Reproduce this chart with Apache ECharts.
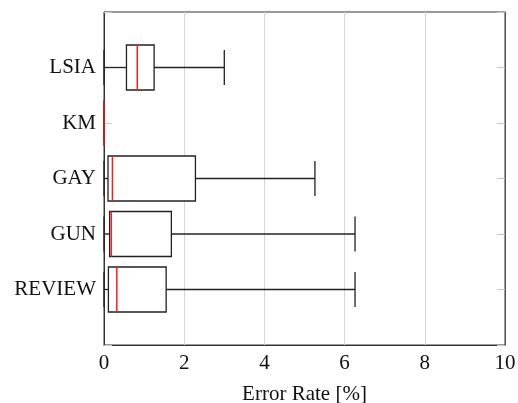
<!DOCTYPE html>
<html>
<head>
<meta charset="utf-8">
<script src="https://cdn.jsdelivr.net/npm/echarts@6/dist/echarts.min.js"></script>
<style>html,body{margin:0;padding:0;background:#fff;}#c{width:518px;height:403px;}</style>
</head>
<body>
<div id="c"></div>
<script>
var categories = ['REVIEW', 'GUN', 'GAY', 'KM', 'LSIA'];
var whiskerLow = [0, 0, 0, 0, 0];
var q1 = [0.11, 0.14, 0.10, 0, 0.56];
var median = [0.32, 0.18, 0.21, 0, 0.83];
var q3 = [1.55, 1.68, 2.28, 0, 1.25];
var whiskerHigh = [6.26, 6.26, 5.26, 0, 3.00];
var xTicks = [0, 2, 4, 6, 8, 10];

var yCats = [''].concat(categories).concat(['']);
var data = categories.map(function (c, i) {
  return [c, whiskerLow[i], q1[i], median[i], q3[i], whiskerHigh[i]];
});

var font = 'Liberation Serif';
var chart = echarts.init(document.getElementById('c'), null, {renderer: 'canvas'});
chart.setOption({
  animation: false,
  backgroundColor: '#fff',
  grid: {left: 104, right: 13, top: 12, bottom: 58, containLabel: false, outerBoundsMode: 'none', show: true, borderColor: '#333', borderWidth: 1, backgroundColor: 'transparent'},
  xAxis: {
    type: 'value', min: xTicks[0], max: xTicks[xTicks.length - 1], interval: 2,
    name: 'Error Rate [%]', nameLocation: 'middle', nameGap: 39,
    nameTextStyle: {fontFamily: font, fontSize: 21, color: '#111'},
    axisLine: {show: true, lineStyle: {color: '#333', width: 1}},
    axisTick: {show: false},
    axisLabel: {fontFamily: font, fontSize: 21, color: '#111', margin: 8},
    splitLine: {show: true, lineStyle: {color: '#d6d6d6', width: 1}}
  },
  yAxis: [{
    type: 'category', data: yCats, boundaryGap: false,
    axisLine: {show: true, lineStyle: {color: '#333', width: 1}},
    axisTick: {show: true, inside: true, length: 8, lineStyle: {color: '#c8c8c8'}},
    axisLabel: {fontFamily: font, fontSize: 21, color: '#111', margin: 8},
    splitLine: {show: false}
  }, {
    type: 'category', data: yCats, boundaryGap: false, position: 'right',
    axisLine: {show: true, lineStyle: {color: '#555', width: 1}},
    axisTick: {show: true, inside: true, length: 8, lineStyle: {color: '#c8c8c8'}},
    axisLabel: {show: false},
    splitLine: {show: false}
  }],
  series: [{
    type: 'custom',
    yAxisIndex: 0,
    encode: {y: 0, x: [1, 2, 3, 4, 5]},
    data: data,
    z: 3,
    renderItem: function (params, api) {
      var cat = api.value(0);
      var pMin = api.coord([api.value(1), cat]);
      var pQ1 = api.coord([api.value(2), cat]);
      var pMed = api.coord([api.value(3), cat]);
      var pQ3 = api.coord([api.value(4), cat]);
      var pMax = api.coord([api.value(5), cat]);
      var band = api.size([0, 1])[1];
      var bh = band * 0.81 / 2;
      var ch = band * 0.63 / 2;
      var y = pMed[1];
      var ls = {stroke: '#222', lineWidth: 1.3, fill: null};
      return {
        type: 'group',
        children: [
          {type: 'line', shape: {x1: pMin[0], y1: y, x2: pQ1[0], y2: y}, style: ls},
          {type: 'line', shape: {x1: pQ3[0], y1: y, x2: pMax[0], y2: y}, style: ls},
          {type: 'line', shape: {x1: pMin[0], y1: y - ch, x2: pMin[0], y2: y + ch}, style: ls},
          {type: 'line', shape: {x1: pMax[0], y1: y - ch, x2: pMax[0], y2: y + ch}, style: ls},
          {type: 'rect', shape: {x: pQ1[0], y: y - bh, width: pQ3[0] - pQ1[0], height: 2 * bh}, style: {stroke: '#222', lineWidth: 1.3, fill: '#fff'}},
          {type: 'line', shape: {x1: pMed[0], y1: y - bh, x2: pMed[0], y2: y + bh}, style: {stroke: '#ff1a1a', lineWidth: 1.5}}
        ]
      };
    }
  }]
});
</script>
</body>
</html>
